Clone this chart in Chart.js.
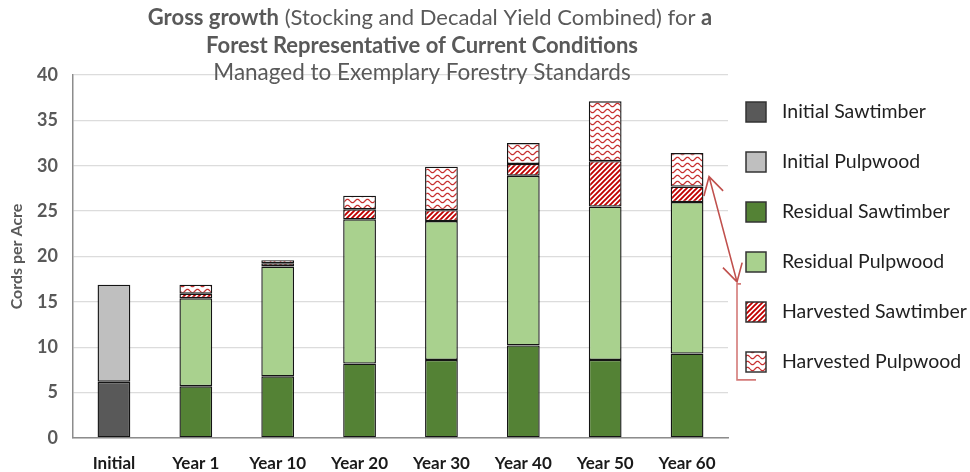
<!DOCTYPE html>
<html>
<head>
<meta charset="utf-8">
<script src="https://cdn.jsdelivr.net/npm/chart.js@4.4.0/dist/chart.umd.min.js"></script>
<style>
html, body { margin: 0; padding: 0; background: #fff; }
</style>
</head>
<body>
<canvas id="myChart" width="970" height="472"></canvas>
<script>
// values (cords per acre)
var categories = ["Initial", "Year 1", "Year 10", "Year 20", "Year 30", "Year 40", "Year 50", "Year 60"];
var initialSawtimber = [6.2, null, null, null, null, null, null, null];
var initialPulpwood = [10.7, null, null, null, null, null, null, null];
var residualSawtimber = [null, 5.7, 6.8, 8.2, 8.6, 10.2, 8.6, 9.3];
var residualPulpwood = [null, 9.7, 12.1, 15.9, 15.3, 18.7, 16.9, 16.7];
var harvestedSawtimber = [null, 0.5, 0.35, 1.1, 1.2, 1.3, 5.0, 1.7];
var harvestedPulpwood = [null, 1.0, 0.35, 1.5, 4.8, 2.3, 6.6, 3.7];
var yTicks = { min: 0, max: 40, step: 5 };

var FONT = "Lato, 'Open Sans', sans-serif";

function stripePattern() {
  var c = document.createElement('canvas');
  c.width = 5; c.height = 5;
  var g = c.getContext('2d');
  g.fillStyle = '#fff';
  g.fillRect(0, 0, 5, 5);
  g.strokeStyle = '#c00000';
  g.lineWidth = 1.9;
  g.beginPath();
  g.moveTo(-1, 6); g.lineTo(6, -1);
  g.moveTo(-1, 1); g.lineTo(1, -1);
  g.moveTo(4, 6); g.lineTo(6, 4);
  g.stroke();
  return g.createPattern(c, 'repeat');
}

function wavePattern() {
  var c = document.createElement('canvas');
  c.width = 10; c.height = 6;
  var g = c.getContext('2d');
  g.fillStyle = '#fff';
  g.fillRect(0, 0, 10, 6);
  g.strokeStyle = '#c83232';
  g.lineWidth = 1.2;
  g.beginPath();
  for (var x = 0; x <= 10; x += 0.5) {
    var y = 3 + 1.7 * Math.sin(x / 10 * Math.PI * 2);
    if (x === 0) g.moveTo(x, y); else g.lineTo(x, y);
  }
  g.stroke();
  return g.createPattern(c, 'repeat');
}

var harvSawFill = stripePattern();
var harvPulpFill = wavePattern();

function series(label, data, fill) {
  return {
    label: label,
    data: data,
    backgroundColor: fill,
    borderColor: '#141414',
    borderWidth: 1.4,
    borderSkipped: false
  };
}

// title with mixed bold / normal runs
var titlePlugin = {
  id: 'mixedTitle',
  afterDraw: function (chart) {
    var ctx = chart.ctx;
    var lines = [
      { y: 18, cx: 430, runs: [["bold", "Gross growth"], ["normal", " (Stocking and Decadal Yield Combined) for "], ["bold", "a"]] },
      { y: 46, cx: 422, runs: [["bold", "Forest Representative of Current Conditions"]] },
      { y: 73, cx: 422, runs: [["normal", "Managed to Exemplary Forestry Standards"]] }
    ];
    ctx.save();
    ctx.fillStyle = '#595959';
    ctx.textBaseline = 'middle';
    ctx.textAlign = 'left';
    lines.forEach(function (ln, i) {
      var size = i === 2 ? 22.5 : 22;
      var total = 0;
      ln.runs.forEach(function (r) {
        ctx.font = r[0] + ' ' + size + 'px ' + FONT;
        total += ctx.measureText(r[1]).width;
      });
      var x = ln.cx - total / 2;
      ln.runs.forEach(function (r) {
        ctx.font = r[0] + ' ' + size + 'px ' + FONT;
        ctx.fillText(r[1], x, ln.y);
        x += ctx.measureText(r[1]).width;
      });
    });
    ctx.restore();
  }
};

// legend on the right, one row per dataset
var legendPlugin = {
  id: 'sideLegend',
  afterDraw: function (chart) {
    var ctx = chart.ctx;
    var left = chart.chartArea.right + 18;
    ctx.save();
    ctx.font = '19.5px ' + FONT;
    ctx.textBaseline = 'middle';
    chart.data.datasets.forEach(function (ds, i) {
      var cy = 112 + i * 50;
      ctx.fillStyle = ds.backgroundColor;
      ctx.fillRect(left, cy - 10, 20, 20);
      ctx.strokeStyle = '#333';
      ctx.lineWidth = 1.5;
      ctx.strokeRect(left, cy - 10, 20, 20);
      ctx.fillStyle = '#1f1f1f';
      ctx.fillText(ds.label, left + 36, cy);
    });
    ctx.restore();
  }
};

// red arrow from the Year 60 harvest to the harvested legend entries
var arrowPlugin = {
  id: 'harvestArrow',
  afterDraw: function (chart) {
    var ctx = chart.ctx;
    var xs = chart.scales.x, ys = chart.scales.y;
    var x1 = xs.getPixelForValue(7) + 22, y1 = ys.getPixelForValue(28.8);
    var x2 = chart.chartArea.right + 9, y2 = ys.getPixelForValue(17.2);
    var yb = ys.getPixelForValue(6.4);
    var ang = Math.atan2(y2 - y1, x2 - x1);
    function head(x, y, a) {
      ctx.moveTo(x + 20 * Math.cos(a - 0.52), y + 20 * Math.sin(a - 0.52));
      ctx.lineTo(x, y);
      ctx.lineTo(x + 20 * Math.cos(a + 0.52), y + 20 * Math.sin(a + 0.52));
    }
    ctx.save();
    ctx.strokeStyle = '#c0504d';
    ctx.lineWidth = 1.6;
    ctx.beginPath();
    ctx.moveTo(x1, y1); ctx.lineTo(x2, y2);
    head(x1, y1, ang);
    head(x2, y2, ang + Math.PI);
    ctx.stroke();
    ctx.strokeStyle = '#d47a78';
    ctx.beginPath();
    ctx.moveTo(x2 + 4, y2 + 2);
    ctx.lineTo(x2, y2 + 2);
    ctx.lineTo(x2, yb);
    ctx.lineTo(x2 + 19, yb);
    ctx.stroke();
    ctx.restore();
  }
};

var ctx = document.getElementById('myChart').getContext('2d');
var myChart = new Chart(ctx, {
  type: 'bar',
  data: {
    labels: categories,
    datasets: [
      series('Initial Sawtimber', initialSawtimber, '#595959'),
      series('Initial Pulpwood', initialPulpwood, '#bfbfbf'),
      series('Residual Sawtimber', residualSawtimber, '#548235'),
      series('Residual Pulpwood', residualPulpwood, '#a9d18e'),
      series('Harvested Sawtimber', harvestedSawtimber, harvSawFill),
      series('Harvested Pulpwood', harvestedPulpwood, harvPulpFill)
    ]
  },
  options: {
    responsive: false,
    animation: false,
    layout: { padding: { top: 75, right: 242, bottom: 0, left: 0 } },
    datasets: { bar: { barPercentage: 0.4, categoryPercentage: 1 } },
    plugins: {
      legend: { display: false },
      title: { display: false },
      tooltip: { enabled: false }
    },
    scales: {
      x: {
        stacked: true,
        grid: { display: false, drawTicks: false },
        border: { color: '#8c8c8c', width: 1.5 },
        ticks: { color: '#1a1a1a', padding: 15, font: { family: FONT, size: 17, weight: 'bold' } },
        afterFit: function (s) { s.height = 34; }
      },
      y: {
        stacked: true,
        min: yTicks.min,
        max: yTicks.max,
        grid: { color: '#dcdcdc', lineWidth: 1.3, drawTicks: false },
        border: { color: '#8c8c8c', width: 1.5 },
        ticks: { stepSize: yTicks.step, color: '#595959', padding: 15, font: { family: FONT, size: 18, weight: 'bold' } },
        title: { display: true, text: 'Cords per Acre', color: '#595959', padding: { top: 7 }, font: { family: FONT, size: 16, weight: 'bold' } },
        afterFit: function (s) { s.width = 73; }
      }
    }
  },
  plugins: [titlePlugin, legendPlugin, arrowPlugin]
});
</script>
</body>
</html>
